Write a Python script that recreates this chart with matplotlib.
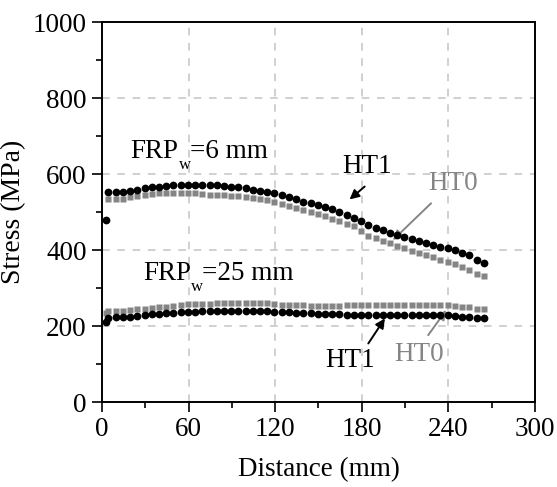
import matplotlib
matplotlib.use("Agg")
import matplotlib.pyplot as plt
from matplotlib.ticker import MultipleLocator

plt.rcParams["font.family"] = ["Liberation Serif", "DejaVu Serif"]
plt.rcParams["font.size"] = 19.5

BLACK = "#000000"
GREY = "#858585"
GRID = "#c4c4c4"

# distance along the beam (mm)
DIST = [4.5, 9.5, 14.5, 19.5, 24.5, 29.5, 34.5, 39.5, 44.5, 49.5,
        54.5, 59.5, 64.5, 69.5, 74.5, 79.5, 84.5, 89.5, 94.5, 99.5,
        104.5, 109.5, 114.5, 119.5, 124.5, 129.5, 134.5, 139.5, 144.5, 149.5,
        154.5, 159.5, 164.5, 169.5, 174.5, 179.5, 184.5, 189.5, 194.5, 199.5,
        204.5, 209.5, 214.5, 219.5, 224.5, 229.5, 234.5, 239.5, 244.5, 249.5,
        254.5, 259.5, 264.5]

# FRP_w = 6 mm
HT1_6 = [552, 552, 553, 555, 558, 562, 565, 567, 568, 570,
         571, 571, 571, 571, 570, 570, 569, 567, 566, 562,
         559, 555, 553, 549, 544, 539, 533, 527, 523, 518,
         513, 507, 500, 493, 485, 476, 465, 458, 452, 446,
         439, 433, 428, 423, 418, 413, 409, 404, 399, 393,
         386, 374, 367]
HT0_6 = [533, 533, 535, 539, 542, 545, 547, 549, 549, 550,
         550, 550, 549, 547, 546, 545, 545, 543, 541, 540,
         537, 534, 531, 527, 522, 517, 511, 506, 500, 495,
         489, 482, 476, 469, 462, 450, 438, 431, 424, 418,
         411, 404, 398, 393, 387, 381, 375, 369, 362, 355,
         347, 338, 332]

# FRP_w = 25 mm
HT1_25 = [220, 223, 224, 225, 226, 229, 231, 232, 233, 235,
          236, 238, 238, 239, 239, 240, 240, 240, 240, 240,
          240, 239, 239, 238, 237, 236, 235, 234, 233, 232,
          232, 231, 231, 230, 230, 230, 230, 230, 230, 230,
          230, 230, 230, 230, 229, 229, 229, 229, 227, 225,
          223, 221, 220]
HT0_25 = [239, 239, 240, 242, 245, 246, 248, 250, 251, 253,
          255, 257, 257, 259, 259, 260, 260, 261, 261, 261,
          261, 261, 260, 258, 256, 255, 254, 254, 253, 253,
          253, 253, 253, 254, 254, 255, 255, 255, 256, 256,
          256, 256, 256, 256, 255, 255, 255, 254, 253, 251,
          249, 246, 246]

# first reading at the plate end
EDGE_DIST = [2.5]
EDGE_HT1_6 = [478]
EDGE_HT1_25 = [211]
EDGE_HT0_25 = [233]

fig = plt.figure(figsize=(5.57, 4.87), dpi=100)
ax = fig.add_axes([0.1831, 0.1745, 0.7774, 0.7803])

sq = dict(ls="none", marker="s", ms=4.3, mec="none", color=GREY, zorder=3)
dot = dict(ls="none", marker="o", ms=5.6, mec="none", color=BLACK, zorder=4)
ax.plot(DIST, HT0_6, **sq)
ax.plot(DIST, HT0_25, **sq)
ax.plot(EDGE_DIST, EDGE_HT0_25, **sq)
ax.plot(DIST, HT1_6, **dot)
ax.plot(DIST, HT1_25, **dot)
ax.plot(EDGE_DIST, EDGE_HT1_6, **dot)
ax.plot(EDGE_DIST, EDGE_HT1_25, **dot)

ax.set_xlim(0, 300)
ax.set_ylim(0, 1000)
ax.xaxis.set_major_locator(MultipleLocator(60))
ax.xaxis.set_minor_locator(MultipleLocator(30))
ax.yaxis.set_major_locator(MultipleLocator(200))
ax.yaxis.set_minor_locator(MultipleLocator(100))
ax.grid(True, which="major", color=GRID, ls=(0, (5, 5)), lw=1.1, zorder=0)
ax.set_axisbelow(True)

for s in ax.spines.values():
    s.set_linewidth(1.4)
ax.tick_params(which="major", direction="out", length=7, width=1.2, pad=4)
ax.tick_params(which="minor", direction="out", length=4, width=1.2)
ax.tick_params(axis="both", which="major", labelsize=19.5)

ax.set_xlabel("Distance (mm)", fontsize=19.5)
ax.set_ylabel("Stress (MPa)", fontsize=20)
ax.xaxis.set_label_coords(0.5, -0.145)
ax.yaxis.set_label_coords(-0.175, 0.5)

# group labels: FRP with a low subscript w
ax.text(19.5, 642, "FRP", fontsize=19.5, ha="left", va="baseline")
ax.text(57.5, 623, "w", fontsize=12, ha="center", va="center")
ax.text(61.0, 642, "=6 mm", fontsize=19.5, ha="left", va="baseline")
ax.text(28.5, 321, "FRP", fontsize=19.5, ha="left", va="baseline")
ax.text(66.0, 302, "w", fontsize=12, ha="center", va="center")
ax.text(69.5, 321, "=25 mm", fontsize=19.5, ha="left", va="baseline")

# curve labels with arrows
ax.text(184, 621, "HT1", color=BLACK, ha="center", va="center", fontsize=19.5)
ax.text(243, 574, "HT0", color=GREY, ha="center", va="center", fontsize=19.5)
ax.text(172, 110, "HT1", color=BLACK, ha="center", va="center", fontsize=19.5)
ax.text(220, 124, "HT0", color=GREY, ha="center", va="center", fontsize=19.5)

arr = dict(arrowstyle="-|>", lw=1.4, mutation_scale=14, shrinkA=0, shrinkB=0)
ax.annotate("", xy=(171.5, 533), xytext=(182, 567),
            arrowprops=dict(color=BLACK, **arr))
ax.annotate("", xy=(201.5, 426), xytext=(228, 523),
            arrowprops=dict(color=GREY, **arr))
ax.annotate("", xy=(196, 220), xytext=(184.5, 154),
            arrowprops=dict(color=BLACK, **arr))
ax.annotate("", xy=(238.5, 242), xytext=(226, 176),
            arrowprops=dict(color=GREY, **arr))

fig.savefig("out.png", dpi=100)
